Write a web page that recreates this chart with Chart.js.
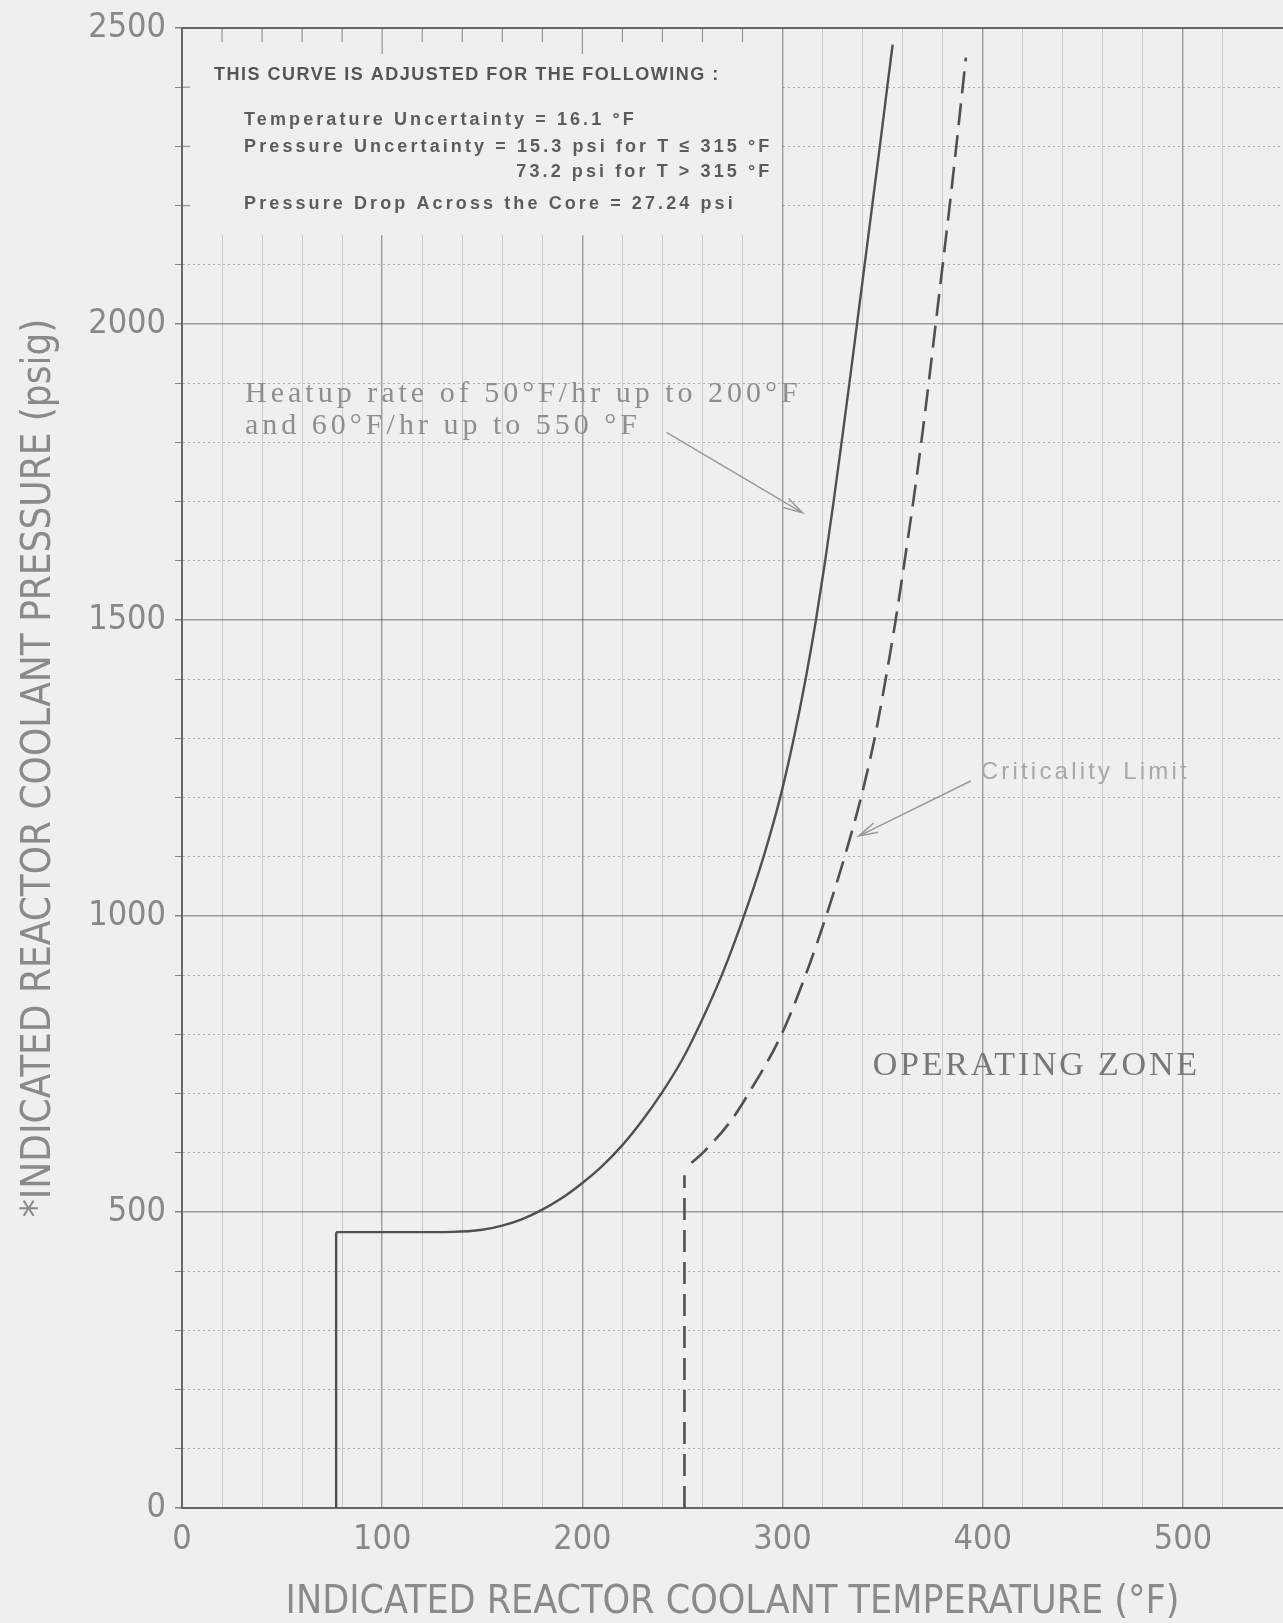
<!DOCTYPE html>
<html>
<head>
<meta charset="utf-8">
<title>Heatup limit curve</title>
<script src="https://cdn.jsdelivr.net/npm/chart.js@4.4.0/dist/chart.umd.min.js"></script>
<style>
  html, body { margin: 0; padding: 0; background: #efefef; }
  #wrap { width: 1283px; height: 1623px; position: relative; }
</style>
</head>
<body>
<div id="wrap"><canvas id="myChart"></canvas></div>
<script>
// heatup limit, solid line (deg F, psig)
const heatupStepT = [77, 77]
const heatupStepP = [0, 466]
const heatupT = [77, 110, 135, 150, 160, 170, 180, 190, 200, 210, 220, 230, 240, 250, 260, 270, 280, 290.5, 298.8, 305.6, 311.5, 316.7, 321.3, 325.5, 329.5, 333.4, 337.2, 341, 344.8, 348.6, 352.3, 355]
const heatupP = [466, 466, 466.5, 470, 477, 488, 504, 524, 549, 578, 613, 655, 703, 758, 826, 903, 993, 1100, 1200, 1300, 1400, 1500, 1600, 1700, 1800, 1900, 2000, 2100, 2200, 2300, 2400, 2472]

// criticality limit, dashed line
const critStepT = [251, 251]
const critStepP = [0, 562]
const critT = [254.5, 260.8, 274.4, 283, 299.5, 311.5, 321.8, 331, 339.2, 346, 351.5, 356.5, 361, 365.3, 369.3, 373, 376.5, 380, 383.5, 386.8, 390, 391.6]
const critP = [583, 602, 655, 700, 800, 900, 1000, 1100, 1200, 1300, 1400, 1500, 1600, 1700, 1800, 1900, 2000, 2100, 2200, 2300, 2400, 2450]

// labelled ticks
const xTicks = [0, 100, 200, 300, 400, 500]
const yTicks = [0, 500, 1000, 1500, 2000, 2500]

const xTitle = 'INDICATED REACTOR COOLANT TEMPERATURE (°F)'
const yTitle = '*INDICATED REACTOR COOLANT PRESSURE (psig)'

const noteLines = [
    'THIS CURVE IS ADJUSTED FOR THE FOLLOWING :',
    'Temperature Uncertainty = 16.1 °F',
    'Pressure Uncertainty = 15.3 psi for T ≤ 315 °F',
    '73.2 psi for T > 315 °F',
    'Pressure Drop Across the Core = 27.24 psi'
]
const heatupLabel = ['Heatup rate of 50°F/hr up to 200°F', 'and 60°F/hr up to 550 °F']
const critLabel = 'Criticality Limit'
const zoneLabel = 'OPERATING ZONE'

const paper = '#efefef'
const ink = '#505050'
const sans = '"Liberation Sans", Arial, sans-serif'
const narrow = '"Liberation Sans Narrow", "DejaVu Sans Condensed", sans-serif'
const serif = '"Liberation Serif", "DejaVu Serif", serif'

// annotation placement in data units (temperature, pressure)
const boxFont = 'bold 18px ' + sans
const notes = [
    { text: noteLines[0], x: 16, y: 2420, font: boxFont, spacing: 1.5, color: '#555' },
    { text: noteLines[1], x: 31, y: 2345, font: boxFont, spacing: 3.1, color: '#5c5c5c' },
    { text: noteLines[2], x: 31, y: 2299, font: boxFont, spacing: 3.1, color: '#5c5c5c' },
    { text: noteLines[3], endOf: 2, y: 2257, font: boxFont, spacing: 3.1, color: '#5c5c5c' },
    { text: noteLines[4], x: 31, y: 2203, font: boxFont, spacing: 3.1, color: '#5c5c5c' },
    { text: heatupLabel[0], x: 31.5, y: 1882, font: '30px ' + serif, spacing: 4, color: '#8e8e8e' },
    { text: heatupLabel[1], x: 31.5, y: 1827, font: '30px ' + serif, spacing: 4, color: '#8e8e8e' },
    { text: critLabel, x: 399, y: 1243, font: '24px ' + sans, spacing: 3.2, color: '#a8a8a8' },
    { text: zoneLabel, x: 345, y: 747, font: '34px ' + serif, spacing: 2.8, color: '#787878' }
]
const arrows = [
    { from: [242, 1817], to: [310, 1681] },
    { from: [394, 1228], to: [338, 1135] }
]

const pts = (xs, ys) => xs.map((v, i) => ({ x: v, y: ys[i] }))

function drawText(ctx, n, px, py) {
    ctx.font = n.font
    ctx.letterSpacing = n.spacing + 'px'
    ctx.fillStyle = n.color
    ctx.textBaseline = 'middle'
    ctx.fillText(n.text, px, py)
}

const paperPlugin = {
    id: 'paper',
    beforeDraw(chart) {
        const { ctx, width, height } = chart
        ctx.save()
        ctx.fillStyle = paper
        ctx.fillRect(0, 0, width, height)
        ctx.restore()
    },
    beforeDatasetsDraw(chart) {
        const { ctx, scales: { x, y } } = chart
        // the notes panel hides the grid
        const x0 = x.getPixelForValue(0), x1 = x.getPixelForValue(300)
        const y0 = y.getPixelForValue(2500), y1 = y.getPixelForValue(2150)
        ctx.save()
        ctx.fillStyle = paper
        ctx.fillRect(x0 + 1, y0 + 1, x1 - x0 - 2, y1 - y0 - 1)
        ctx.strokeStyle = 'rgba(60,60,60,0.5)'
        ctx.lineWidth = 1.2
        for (let t = 20; t < 300; t += 20) {
            const px = x.getPixelForValue(t)
            ctx.beginPath()
            ctx.moveTo(px, y0)
            ctx.lineTo(px, y0 + (t % 100 === 0 ? 26 : 14))
            ctx.stroke()
        }
        for (let p = 2200; p < 2500; p += 100) {
            const py = y.getPixelForValue(p)
            ctx.beginPath()
            ctx.moveTo(x0, py)
            ctx.lineTo(x0 + 8, py)
            ctx.stroke()
        }
        ctx.restore()
    },
    afterDraw(chart) {
        const { ctx, chartArea: a, scales: { x, y } } = chart
        ctx.save()
        // frame top
        ctx.strokeStyle = '#666'
        ctx.lineWidth = 2
        ctx.beginPath()
        ctx.moveTo(a.left, a.top)
        ctx.lineTo(a.right, a.top)
        ctx.stroke()

        notes.forEach(n => {
            let px
            if (n.endOf !== undefined) {
                const ref = notes[n.endOf]
                ctx.font = ref.font
                ctx.letterSpacing = ref.spacing + 'px'
                const end = x.getPixelForValue(ref.x) + ctx.measureText(ref.text).width
                ctx.font = n.font
                ctx.letterSpacing = n.spacing + 'px'
                px = end - ctx.measureText(n.text).width
            } else {
                px = x.getPixelForValue(n.x)
            }
            drawText(ctx, n, px, y.getPixelForValue(n.y))
        })
        ctx.letterSpacing = '0px'

        ctx.strokeStyle = '#9a9a9a'
        ctx.lineWidth = 1.5
        arrows.forEach(ar => {
            const ax = x.getPixelForValue(ar.from[0]), ay = y.getPixelForValue(ar.from[1])
            const bx = x.getPixelForValue(ar.to[0]), by = y.getPixelForValue(ar.to[1])
            const ang = Math.atan2(by - ay, bx - ax)
            ctx.beginPath()
            ctx.moveTo(ax, ay)
            ctx.lineTo(bx, by)
            ctx.moveTo(bx - 20 * Math.cos(ang - 0.26), by - 20 * Math.sin(ang - 0.26))
            ctx.lineTo(bx, by)
            ctx.lineTo(bx - 20 * Math.cos(ang + 0.26), by - 20 * Math.sin(ang + 0.26))
            ctx.stroke()
        })
        ctx.restore()
    }
}

const lineStyle = { showLine: true, borderColor: ink, pointRadius: 0, fill: false }

const ctx = document.getElementById('myChart')
const myChart = new Chart(ctx, {
    type: 'scatter',
    data: {
        datasets: [
            { ...lineStyle, data: pts(heatupStepT, heatupStepP), borderWidth: 2.4, tension: 0 },
            { ...lineStyle, data: pts(heatupT, heatupP), borderWidth: 2.4, cubicInterpolationMode: 'monotone' },
            { ...lineStyle, data: pts(critStepT, critStepP), borderWidth: 2.6, borderDash: [22, 10], tension: 0 },
            { ...lineStyle, data: pts(critT, critP), borderWidth: 2.6, borderDash: [22, 10], cubicInterpolationMode: 'monotone' }
        ]
    },
    options: {
        responsive: true,
        maintainAspectRatio: false,
        animation: false,
        layout: { padding: { top: 28, right: 0, left: 0, bottom: 0 } },
        plugins: { legend: { display: false }, tooltip: { enabled: false } },
        scales: {
            x: {
                type: 'linear',
                min: 0,
                max: 550,
                afterFit: s => { s.height = 115; s.paddingLeft = 0; s.paddingRight = 0 },
                ticks: {
                    stepSize: 20,
                    autoSkip: false,
                    maxRotation: 0,
                    padding: 12,
                    color: '#888',
                    font: { family: narrow, size: 34 },
                    callback: v => xTicks.includes(v) ? String(v) : ''
                },
                grid: {
                    drawTicks: false,
                    color: c => c.tick && c.tick.value % 100 === 0 ? 'rgba(50,50,50,0.45)' : 'rgba(50,50,50,0.2)',
                    lineWidth: c => c.tick && c.tick.value % 100 === 0 ? 1.4 : 1
                },
                border: { color: '#666', width: 2 },
                title: {
                    display: true,
                    text: xTitle,
                    color: '#8a8a8a',
                    font: { family: narrow, size: 39, lineHeight: 1 },
                    padding: { top: 0, bottom: 1 }
                }
            },
            y: {
                type: 'linear',
                min: 0,
                max: 2500,
                afterFit: s => { s.width = 182; s.paddingTop = 0; s.paddingBottom = 0 },
                ticks: {
                    stepSize: 100,
                    autoSkip: false,
                    padding: 9,
                    color: '#888',
                    font: { family: narrow, size: 34 },
                    callback: v => yTicks.includes(v) ? String(v) : ''
                },
                grid: {
                    drawTicks: true,
                    tickLength: 7,
                    tickColor: '#888',
                    color: c => c.tick && c.tick.value % 500 === 0 ? 'rgba(50,50,50,0.45)' : 'rgba(50,50,50,0.35)',
                    lineWidth: c => c.tick && c.tick.value % 500 === 0 ? 1.5 : 1
                },
                border: {
                    color: '#666',
                    width: 2,
                    dash: c => c.tick && c.tick.value % 500 !== 0 ? [2, 3] : []
                },
                title: {
                    display: true,
                    text: yTitle,
                    color: '#8a8a8a',
                    font: { family: narrow, size: 40, lineHeight: 1 },
                    padding: { top: 20, bottom: 0 }
                }
            }
        }
    },
    plugins: [paperPlugin]
})
</script>
</body>
</html>
